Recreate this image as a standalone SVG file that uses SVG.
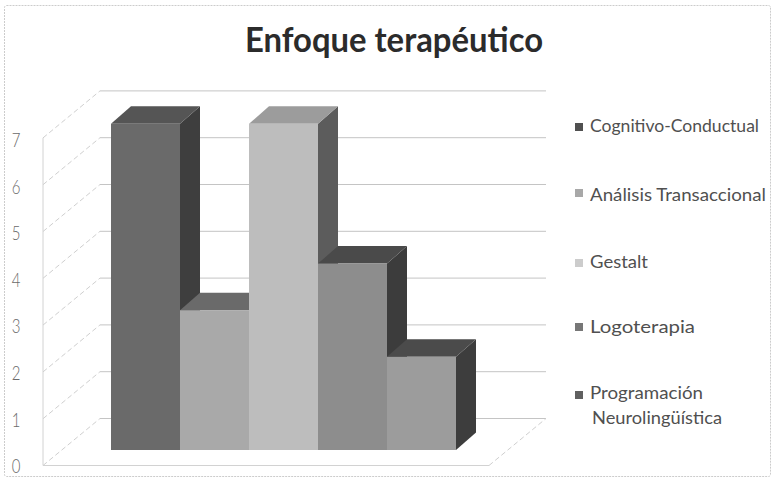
<svg xmlns="http://www.w3.org/2000/svg" width="773" height="479" viewBox="0 0 773 479">
  <style>
    .grid { stroke: #c4c4c4; stroke-width: 1; fill: none; }
    .diag { stroke: #cfcfcf; stroke-width: 1; fill: none; stroke-dasharray: 5 3; }
    .axis { stroke: #d2d2d2; stroke-width: 1; fill: none; }
    .ylab { font-family: Lato, "Open Sans", sans-serif; font-size: 15px; font-weight: 300; fill: #6a6a6a; text-anchor: middle; }
    .leg { font-family: Lato, "Open Sans", sans-serif; font-size: 18px; fill: #505050; }
    .title { font-family: Lato, "Open Sans", sans-serif; font-weight: bold; font-size: 30px; fill: #2b2b2b; text-anchor: middle; }
  </style>
  <rect width="773" height="479" fill="#ffffff"/>
  <rect id="frame" x="4.5" y="5.5" width="766" height="471" rx="2" fill="none" stroke="#cccccc" stroke-width="1" stroke-dasharray="2 1"/>

  <g id="title">
    <text class="title" transform="translate(394,52) scale(1,1.12)" x="0" y="0" textLength="298" lengthAdjust="spacingAndGlyphs">Enfoque terapéutico</text>
  </g>

  <g id="walls">
    <line class="grid" x1="100" y1="418.5" x2="546" y2="418.5"/>
    <line class="grid" x1="100" y1="371.7" x2="546" y2="371.7"/>
    <line class="grid" x1="100" y1="324.9" x2="546" y2="324.9"/>
    <line class="grid" x1="100" y1="278.1" x2="546" y2="278.1"/>
    <line class="grid" x1="100" y1="231.3" x2="546" y2="231.3"/>
    <line class="grid" x1="100" y1="184.5" x2="546" y2="184.5"/>
    <line class="grid" x1="100" y1="137.7" x2="546" y2="137.7"/>
    <line class="grid" x1="100" y1="90.9" x2="546" y2="90.9" stroke="#dcdcdc"/>
    <line class="diag" x1="43" y1="465.5" x2="100" y2="418.5"/>
    <line class="diag" x1="43" y1="418.7" x2="100" y2="371.7"/>
    <line class="diag" x1="43" y1="371.9" x2="100" y2="324.9"/>
    <line class="diag" x1="43" y1="325.1" x2="100" y2="278.1"/>
    <line class="diag" x1="43" y1="278.3" x2="100" y2="231.3"/>
    <line class="diag" x1="43" y1="231.5" x2="100" y2="184.5"/>
    <line class="diag" x1="43" y1="184.7" x2="100" y2="137.7"/>
    <line class="diag" x1="43" y1="137.9" x2="100" y2="90.9"/>
    <line class="axis" x1="43" y1="137.9" x2="43" y2="465.5"/>
    <line class="axis" x1="43" y1="465.5" x2="489" y2="465.5"/>
    <line class="diag" x1="489" y1="465.5" x2="546" y2="418.5"/>
  </g>

  <g id="yaxis">
    <text class="ylab" transform="translate(16,147) scale(1,1.35)">7</text>
    <text class="ylab" transform="translate(16,193.6) scale(1,1.35)">6</text>
    <text class="ylab" transform="translate(16,240.2) scale(1,1.35)">5</text>
    <text class="ylab" transform="translate(16,286.8) scale(1,1.35)">4</text>
    <text class="ylab" transform="translate(16,333.4) scale(1,1.35)">3</text>
    <text class="ylab" transform="translate(16,380) scale(1,1.35)">2</text>
    <text class="ylab" transform="translate(16,426.6) scale(1,1.35)">1</text>
    <text class="ylab" transform="translate(16,473.2) scale(1,1.35)">0</text>
  </g>

  <g id="bar-cognitivo">
    <polygon points="180,123.8 200,106.3 200,432.5 180,450" fill="#3e3e3e"/>
    <polygon points="111,123.8 131,106.3 200,106.3 180,123.8" fill="#555555"/>
    <rect x="111" y="123.8" width="69" height="326.2" fill="#6a6a6a"/>
  </g>
  <g id="bar-analisis">
    <polygon points="249,310.2 269,292.7 269,432.5 249,450" fill="#5a5a5a"/>
    <polygon points="180,310.2 200,292.7 269,292.7 249,310.2" fill="#6a6a6a"/>
    <rect x="180" y="310.2" width="69" height="139.8" fill="#a9a9a9"/>
  </g>
  <g id="bar-gestalt">
    <polygon points="318,123.8 338,106.3 338,432.5 318,450" fill="#5c5c5c"/>
    <polygon points="249,123.8 269,106.3 338,106.3 318,123.8" fill="#9c9c9c"/>
    <rect x="249" y="123.8" width="69" height="326.2" fill="#bdbdbd"/>
  </g>
  <g id="bar-logoterapia">
    <polygon points="387,263.6 407,246.1 407,432.5 387,450" fill="#3c3c3c"/>
    <polygon points="318,263.6 338,246.1 407,246.1 387,263.6" fill="#4a4a4a"/>
    <rect x="318" y="263.6" width="69" height="186.4" fill="#8d8d8d"/>
  </g>
  <g id="bar-programacion">
    <polygon points="456,356.8 476,339.3 476,432.5 456,450" fill="#3d3d3d"/>
    <polygon points="387,356.8 407,339.3 476,339.3 456,356.8" fill="#4b4b4b"/>
    <rect x="387" y="356.8" width="69" height="93.2" fill="#9c9c9c"/>
  </g>

  <g id="legend-cognitivo">
    <rect x="575" y="123" width="8" height="8" fill="#505050"/>
    <text class="leg" x="590" y="132" textLength="169" lengthAdjust="spacingAndGlyphs">Cognitivo-Conductual</text>
  </g>
  <g id="legend-analisis">
    <rect x="575" y="189" width="8" height="8" fill="#a8a8a8"/>
    <text class="leg" x="590" y="201" textLength="176" lengthAdjust="spacingAndGlyphs">Análisis Transaccional</text>
  </g>
  <g id="legend-gestalt">
    <rect x="575" y="259" width="8" height="8" fill="#cccccc"/>
    <text class="leg" x="590" y="268" textLength="58" lengthAdjust="spacingAndGlyphs">Gestalt</text>
  </g>
  <g id="legend-logoterapia">
    <rect x="575" y="323" width="8" height="8" fill="#777777"/>
    <text class="leg" x="590" y="333" textLength="105" lengthAdjust="spacingAndGlyphs">Logoterapia</text>
  </g>
  <g id="legend-programacion">
    <rect x="575" y="391" width="8" height="8" fill="#606060"/>
    <text class="leg" x="590" y="399" textLength="113" lengthAdjust="spacingAndGlyphs">Programación</text>
    <text class="leg" x="592" y="424" textLength="130" lengthAdjust="spacingAndGlyphs">Neurolingüística</text>
  </g>

  <g id="connectors"></g>
</svg>
